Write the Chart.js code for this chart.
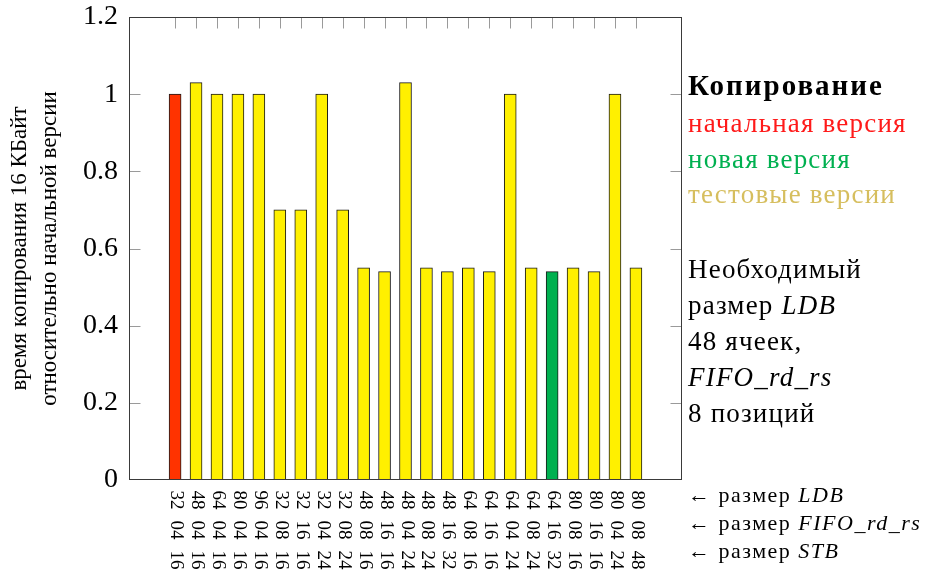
<!DOCTYPE html>
<html>
<head>
<meta charset="utf-8">
<script src="https://cdn.jsdelivr.net/npm/chart.js@4.4.0/dist/chart.umd.min.js"></script>
<style>
  html, body { margin: 0; padding: 0; background: #fff; }
  #wrap { position: relative; width: 929px; height: 572px; }
</style>
</head>
<body>
<div id="wrap"><canvas id="c" width="929" height="572"></canvas></div>
<script>
// Buffer configurations: LDB size, FIFO_rd_rs size, STB size
const ldbSizes  = ['32','48','64','80','96','32','32','32','32','48','48','48','48','48','64','64','64','64','64','80','80','80','80'];
const fifoSizes = ['04','04','04','04','04','08','16','04','08','08','16','04','08','16','08','16','04','08','16','08','16','04','08'];
const stbSizes  = ['16','16','16','16','16','16','16','24','24','16','16','24','24','32','16','16','24','24','32','16','16','24','48'];

// Copy time of 16 KB relative to the initial version
const relTime = [1, 1.03, 1, 1, 1, 0.7, 0.7, 1, 0.7, 0.55, 0.54, 1.03, 0.55, 0.54, 0.55, 0.54, 1, 0.55, 0.54, 0.55, 0.54, 1, 0.55];

const yTicks = [0, 0.2, 0.4, 0.6, 0.8, 1, 1.2];

const baseIndex = 0;   // initial version
const newIndex = 18;   // new version

const legendTitle = 'Копирование';
const legendEntries = ['начальная версия', 'новая версия', 'тестовые версии'];
const noteLines = [
  [['Необходимый', '']],
  [['размер ', ''], ['LDB', 'i']],
  [['48 ячеек,', '']],
  [['FIFO', 'i'], ['_', ''], ['rd', 'i'], ['_', ''], ['rs', 'i']],
  [['8 позиций', '']]
];
const rowNotes = [
  [['← размер ', ''], ['LDB', 'i']],
  [['← размер ', ''], ['FIFO', 'i'], ['_', ''], ['rd', 'i'], ['_', ''], ['rs', 'i']],
  [['← размер ', ''], ['STB', 'i']]
];
const yTitle = ['время копирования 16 КБайт', 'относительно начальной версии'];

const FAMILY = '"Liberation Serif", "DejaVu Serif", serif';
const RED = '#ff3300', GREEN = '#00b050', YELLOW = '#fff000';
const legendColors = ['#ff1a1a', '#00b050', '#d6be5e'];

function font(size, style) {
  const it = style === 'i' ? 'italic ' : '';
  const bd = style === 'b' ? 'bold ' : '';
  return it + bd + size + 'px ' + FAMILY;
}

function drawRuns(ctx, x, y, runs, size, color, spacing) {
  ctx.save();
  ctx.fillStyle = color;
  ctx.textAlign = 'left';
  ctx.textBaseline = 'alphabetic';
  ctx.letterSpacing = spacing + 'px';
  let cx = x;
  for (const [t, st] of runs) {
    ctx.font = font(size, st);
    ctx.fillText(t, cx, y);
    cx += ctx.measureText(t).width;
  }
  ctx.restore();
}

const decorations = {
  id: 'decorations',
  afterDatasetsDraw(chart) {
    const ctx = chart.ctx;
    const a = chart.chartArea;
    const xs = chart.scales.x, ys = chart.scales.y;
    const L = Math.round(a.left) + 0.5, R = Math.round(a.right) - 0.5;
    const T = Math.round(a.top) + 0.5, B = Math.round(a.bottom) - 0.5;
    ctx.save();

    // inner tick marks
    ctx.strokeStyle = '#9a9a9a';
    ctx.lineWidth = 1;
    ctx.beginPath();
    yTicks.forEach(v => {
      if (v === 0 || v === 1.2) return;
      const py = Math.round(ys.getPixelForValue(v)) + 0.5;
      ctx.moveTo(L, py); ctx.lineTo(L + 11, py);
      ctx.moveTo(R, py); ctx.lineTo(R - 11, py);
    });
    relTime.forEach((v, i) => {
      const px = Math.round(xs.getPixelForValue(i)) + 0.5;
      ctx.moveTo(px, T); ctx.lineTo(px, T + 11);
    });
    ctx.stroke();

    // frame
    ctx.strokeStyle = '#3a3a3a';
    ctx.strokeRect(L, T, R - L, B - T);

    // rotated configuration labels
    ctx.fillStyle = '#000';
    ctx.font = font(19, '');
    ctx.textAlign = 'center';
    ctx.textBaseline = 'middle';
    const rows = [ldbSizes, fifoSizes, stbSizes];
    const rowY = [500, 530, 560];
    relTime.forEach((v, i) => {
      const px = xs.getPixelForValue(i);
      rows.forEach((r, k) => {
        ctx.save();
        ctx.translate(px + 1, rowY[k]);
        ctx.rotate(Math.PI / 2);
        ctx.fillText(r[i], 0, 0);
        ctx.restore();
      });
    });

    // side legend
    const sx = 688;
    drawRuns(ctx, sx, 95, [[legendTitle, 'b']], 29, '#000', 2);
    legendEntries.forEach((t, i) => drawRuns(ctx, sx, 132 + i * 35.5, [[t, '']], 27, legendColors[i], 1.2));
    noteLines.forEach((runs, i) => drawRuns(ctx, sx, 278 + i * 36, runs, 27, '#000', 1.2));
    rowNotes.forEach((runs, i) => drawRuns(ctx, sx, 502 + i * 28, runs, 22, '#000', 1.5));

    ctx.restore();
  }
};

new Chart(document.getElementById('c'), {
  type: 'bar',
  data: {
    datasets: [{
      data: relTime.map((v, i) => ({ x: i, y: v })),
      backgroundColor: relTime.map((v, i) => i === baseIndex ? RED : (i === newIndex ? GREEN : YELLOW)),
      borderColor: '#1a1a1a',
      borderWidth: 1,
      borderSkipped: false,
      barThickness: 12
    }]
  },
  options: {
    responsive: false,
    animation: false,
    layout: { padding: { left: 0, right: 247, top: 17, bottom: 0 } },
    plugins: { legend: { display: false }, tooltip: { enabled: false } },
    scales: {
      x: {
        type: 'linear',
        offset: false,
        min: -2.2,
        max: 24.2,
        ticks: { display: false },
        grid: { display: false },
        border: { display: false },
        afterFit(s) { s.height = 92; s.paddingLeft = 0; s.paddingRight = 0; }
      },
      y: {
        min: 0,
        max: 1.2,
        afterBuildTicks(s) { s.ticks = yTicks.map(v => ({ value: v })); },
        ticks: {
          font: { family: FAMILY, size: 28 },
          color: '#000',
          padding: 11,
          callback: v => String(v)
        },
        grid: { display: false, drawTicks: false },
        border: { display: false },
        title: {
          display: true,
          text: yTitle,
          color: '#000',
          font: { family: FAMILY, size: 23, lineHeight: '30px' },
          padding: { top: 5, bottom: 0 }
        },
        afterFit(s) { s.width = 129; s.paddingTop = 0; s.paddingBottom = 0; }
      }
    }
  },
  plugins: [decorations]
});
</script>
</body>
</html>
